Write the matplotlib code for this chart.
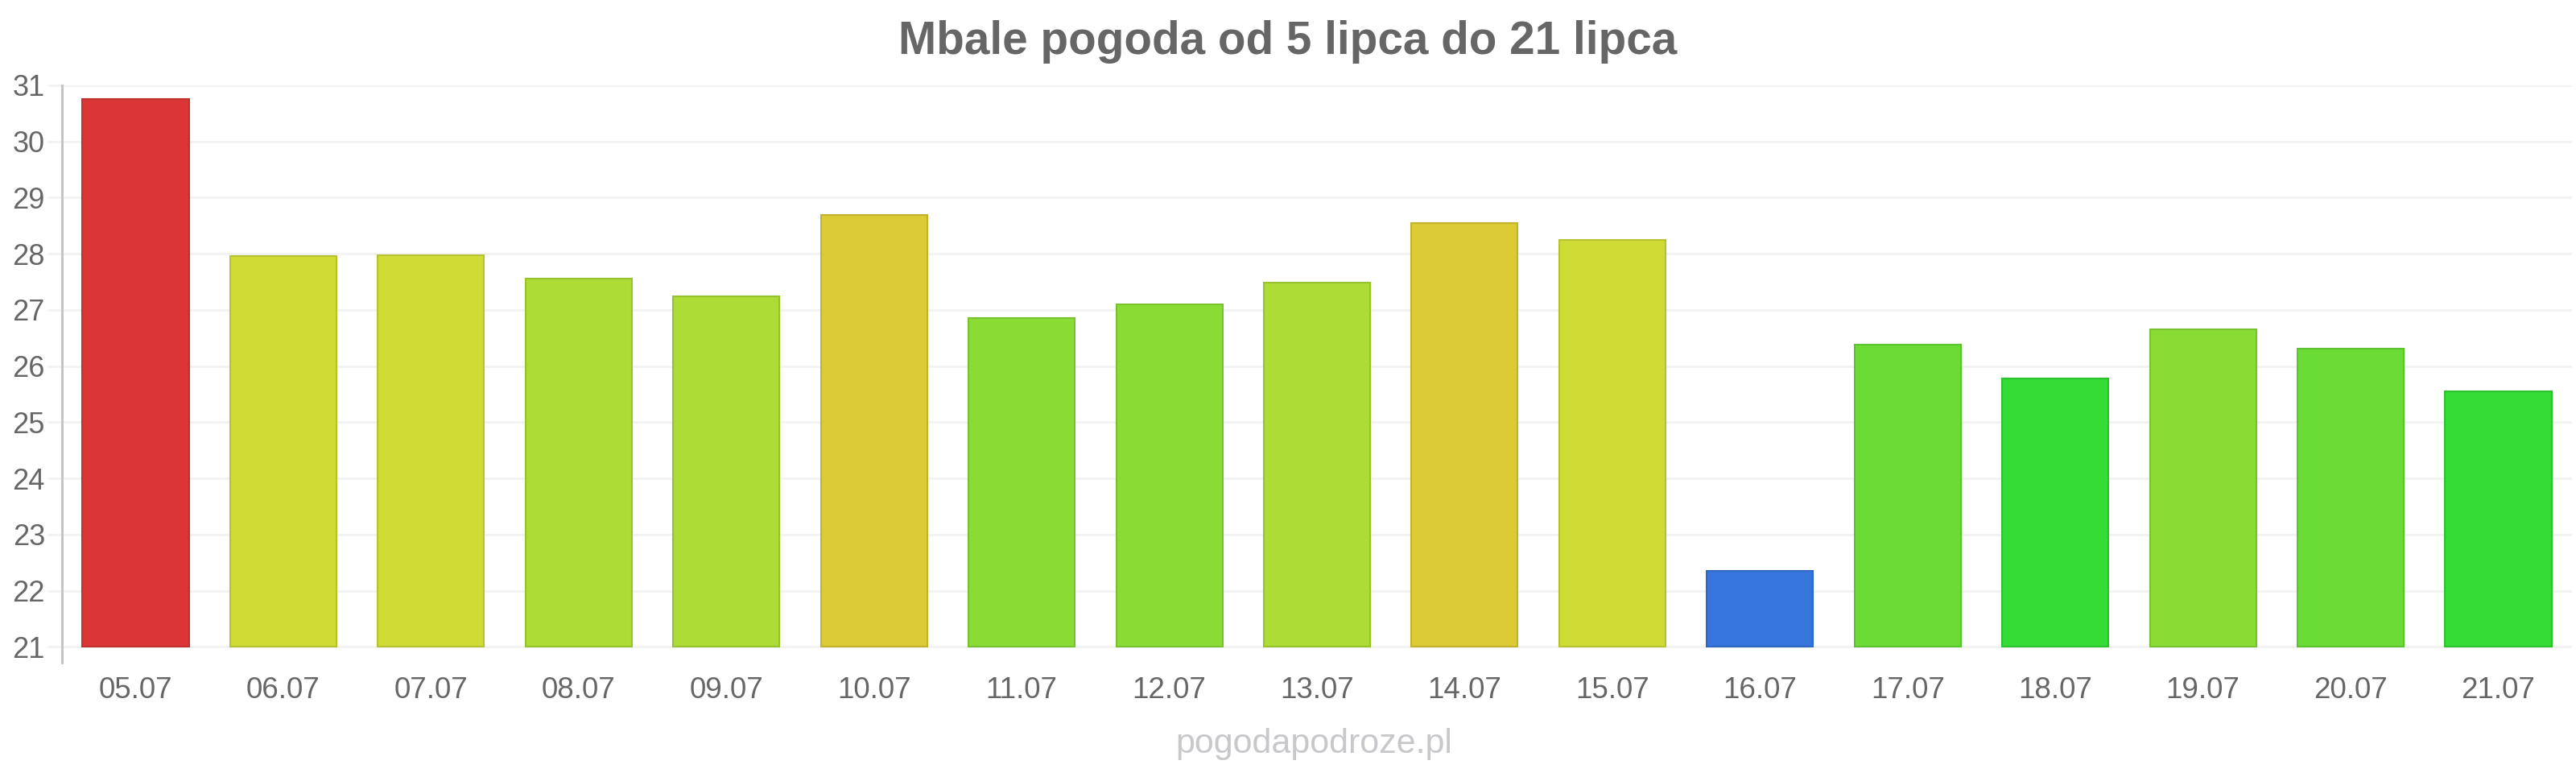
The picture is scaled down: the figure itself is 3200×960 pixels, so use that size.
import matplotlib
matplotlib.use("Agg")
import matplotlib.pyplot as plt
import numpy as np

# data
days = ["05.07", "06.07", "07.07", "08.07", "09.07", "10.07", "11.07", "12.07",
        "13.07", "14.07", "15.07", "16.07", "17.07", "18.07", "19.07", "20.07", "21.07"]
temps = [30.75, 27.96, 27.97, 27.56, 27.25, 28.69, 26.85, 27.10,
         27.49, 28.55, 28.25, 22.36, 26.39, 25.78, 26.65, 26.31, 25.55]
bar_colors = ["#dc3535", "#cfdc35", "#cfdc35", "#acdc35", "#acdc35", "#dccb35", "#8adc35", "#8adc35",
              "#acdc35", "#dccb35", "#cfdc35", "#3575dc", "#6adc35", "#35dc35", "#8adc35", "#6adc35", "#35dc35"]
y_ticks = list(range(21, 32))

title = "Mbale pogoda od 5 lipca do 21 lipca"
watermark = "pogodapodroze.pl"

plt.rcParams["font.family"] = ["Liberation Sans", "DejaVu Sans"]
text_color = "#666666"

fig = plt.figure(figsize=(32, 9.6), dpi=100)
ax = fig.add_axes([0.024, 0.1427, 0.9745, 0.7469])

x = np.arange(len(days))
base = 21
edge_colors = [tuple(c * 0.88 for c in matplotlib.colors.to_rgb(col)) for col in bar_colors]
ax.bar(x, np.array(temps) - base, bottom=base, width=0.72,
       color=bar_colors, edgecolor=edge_colors, linewidth=1.5, zorder=3)

ax.set_xlim(-0.5, len(days) - 0.5)
ax.set_ylim(20.72, 31)
ax.set_yticks(y_ticks)
ax.set_yticklabels([str(v) for v in y_ticks])
ax.set_xticks(x)
ax.set_xticklabels(days)

ax.grid(axis="y", color="#f2f2f2", linewidth=2, zorder=0)
ax.grid(axis="x", visible=False)
for s in ["top", "right", "bottom"]:
    ax.spines[s].set_visible(False)
ax.spines["left"].set_color("#c0c0c0")
ax.spines["left"].set_linewidth(2)
ax.spines["left"].set_bounds(20.72, 31)

ax.tick_params(axis="y", length=13, width=2, color="#f2f2f2", pad=2,
               labelsize=26, labelcolor=text_color)
ax.tick_params(axis="x", length=0, pad=12, labelsize=26.5, labelcolor=text_color)

fig.text(0.5, 0.946, title, ha="center", va="center", fontsize=40.8,
         fontweight="bold", color=text_color)
fig.text(0.51, 0.037, watermark, ha="center", va="center", fontsize=31,
         color="#c8c8cc")

fig.savefig("out.png", dpi=100, facecolor="white")
